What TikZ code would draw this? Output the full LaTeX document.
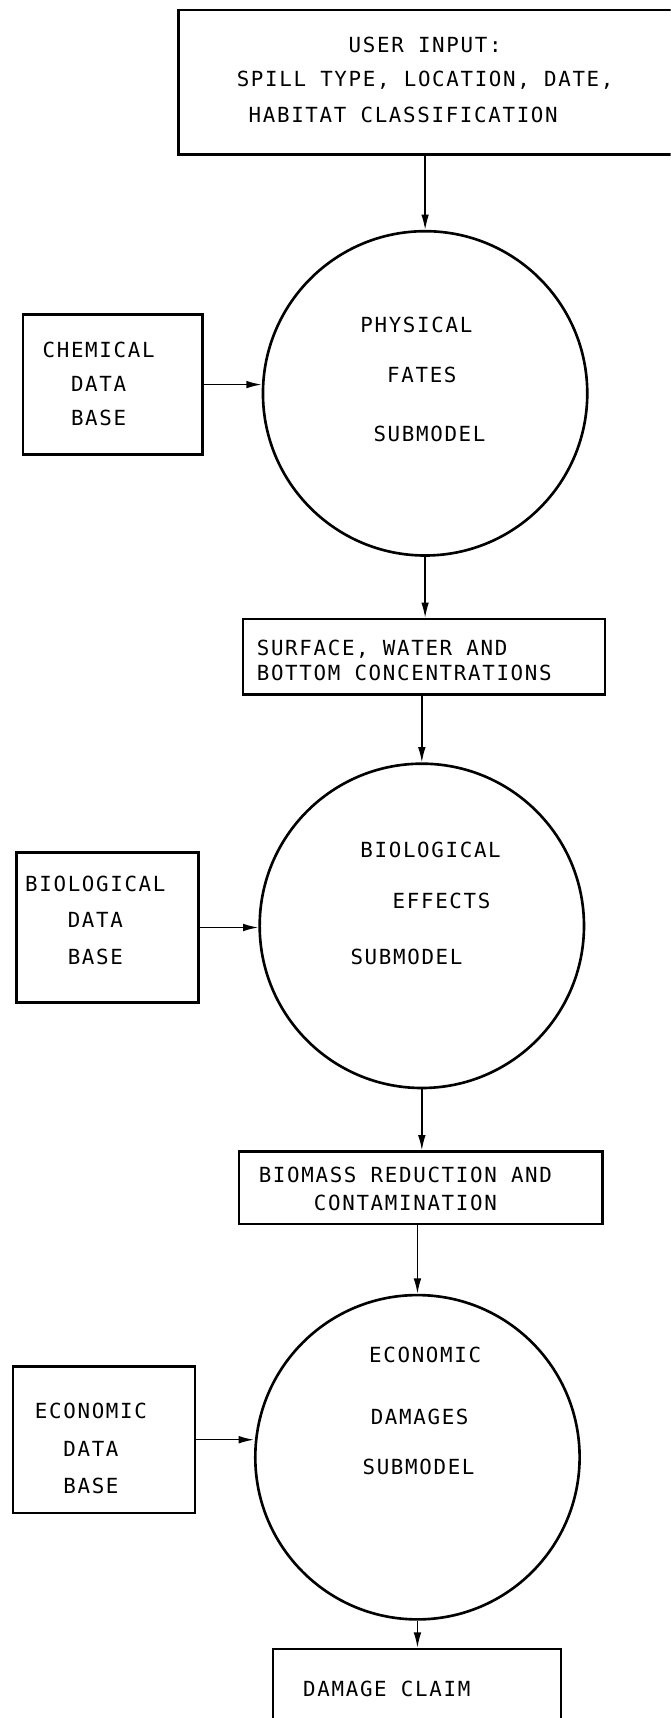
\documentclass[tikz,border=0pt]{standalone}
\usepackage{fontspec}
\newfontfamily\lettering[LetterSpace=8]{DejaVu Sans Mono}
\usetikzlibrary{arrows.meta}

\tikzset{
  flow/.style={-{Latex[length=7pt,width=3.5pt]}, line width=0.7pt},
  frame/.style={draw, line width=1.1pt, inner sep=0pt},
  submodel/.style={draw, circle, line width=1.2pt, minimum size=#1, inner sep=0pt},
  txt/.style={font=\lettering\fontsize{9.5}{11}\selectfont, inner sep=0pt},
}

\begin{document}
\begin{tikzpicture}[x=0.5pt, y=-0.5pt]
  \useasboundingbox (0,0) rectangle (612,1568);
  \clip (0,0) rectangle (612,1568);

  % input box (runs off the right edge)
  \node[frame, minimum width=231pt, minimum height=66pt] (input) at (394,75) {};
  \node[txt] (inputa) at (388,41) {USER INPUT:};
  \node[txt] (inputb) at (388,73) {SPILL TYPE, LOCATION, DATE,};
  \node[txt] (inputc) at (368,105) {HABITAT CLASSIFICATION};

  % physical fates
  \node[submodel=148pt] (phys) at (388,359) {};
  \node[txt] (phys1) at (380,297) {PHYSICAL};
  \node[txt] (phys2) at (385,342) {FATES};
  \node[txt] (phys3) at (392,396) {SUBMODEL};

  \node[frame, minimum width=82pt, minimum height=64pt] (chem) at (103,351) {};
  \node[txt, align=center] (chemtxt) at (90,350)
    {CHEMICAL\\[4.5pt] DATA\\[4.5pt] BASE};

  \node[frame, minimum width=165pt, minimum height=34.5pt] (conc) at (387,599.5) {};
  \node[txt, align=left, anchor=west] (conctxt) at (234,603)
    {SURFACE, WATER AND\\[0.5pt] BOTTOM CONCENTRATIONS};

  % biological effects
  \node[submodel=148pt] (bio) at (385,845) {};
  \node[txt] (bio1) at (393,776) {BIOLOGICAL};
  \node[txt] (bio2) at (403,822) {EFFECTS};
  \node[txt] (bio3) at (371,873) {SUBMODEL};

  \node[frame, minimum width=83pt, minimum height=68.5pt] (biodb) at (98,846.5) {};
  \node[txt, align=center] (biodbtxt) at (87,840)
    {BIOLOGICAL\\[5.5pt] DATA\\[5.5pt] BASE};

  \node[frame, minimum width=166pt, minimum height=33pt] (biomass) at (384,1084) {};
  \node[txt, align=center] (biomasstxt) at (370,1085)
    {BIOMASS REDUCTION AND\\[1.5pt] CONTAMINATION};

  % economic damages
  \node[submodel=148pt] (econ) at (381,1330) {};
  \node[txt] (econ1) at (388,1237) {ECONOMIC};
  \node[txt] (econ2) at (383,1293) {DAMAGES};
  \node[txt] (econ3) at (382,1339) {SUBMODEL};

  \node[frame, minimum width=83pt, minimum height=67pt] (econdb) at (95,1314) {};
  \node[txt, align=center] (econdbtxt) at (83,1322)
    {ECONOMIC\\[6pt] DATA\\[6pt] BASE};

  % claim box (runs off the bottom edge)
  \node[frame, minimum width=131.5pt, minimum height=32.5pt] (claim) at (380.5,1537.5) {};
  \node[txt] (claimtxt) at (353,1541) {DAMAGE CLAIM};

  % connectors
  \draw[flow] (input.south -| phys.north) -- (phys.north);
  \draw[flow] (chem.east) -- (phys.west |- chem.east);
  \draw[flow] (phys.south) -- (conc.north -| phys.south);
  \draw[flow] (conc.south -| bio.north) -- (bio.north);
  \draw[flow] (biodb.east) -- (bio.west |- biodb.east);
  \draw[flow] (bio.south) -- (biomass.north -| bio.south);
  \draw[flow] (biomass.south -| econ.north) -- (econ.north);
  \draw[flow] (econdb.east) -- (econ.west |- econdb.east);
  \draw[flow] (econ.south) -- (claim.north -| econ.south);
\end{tikzpicture}
\end{document}
